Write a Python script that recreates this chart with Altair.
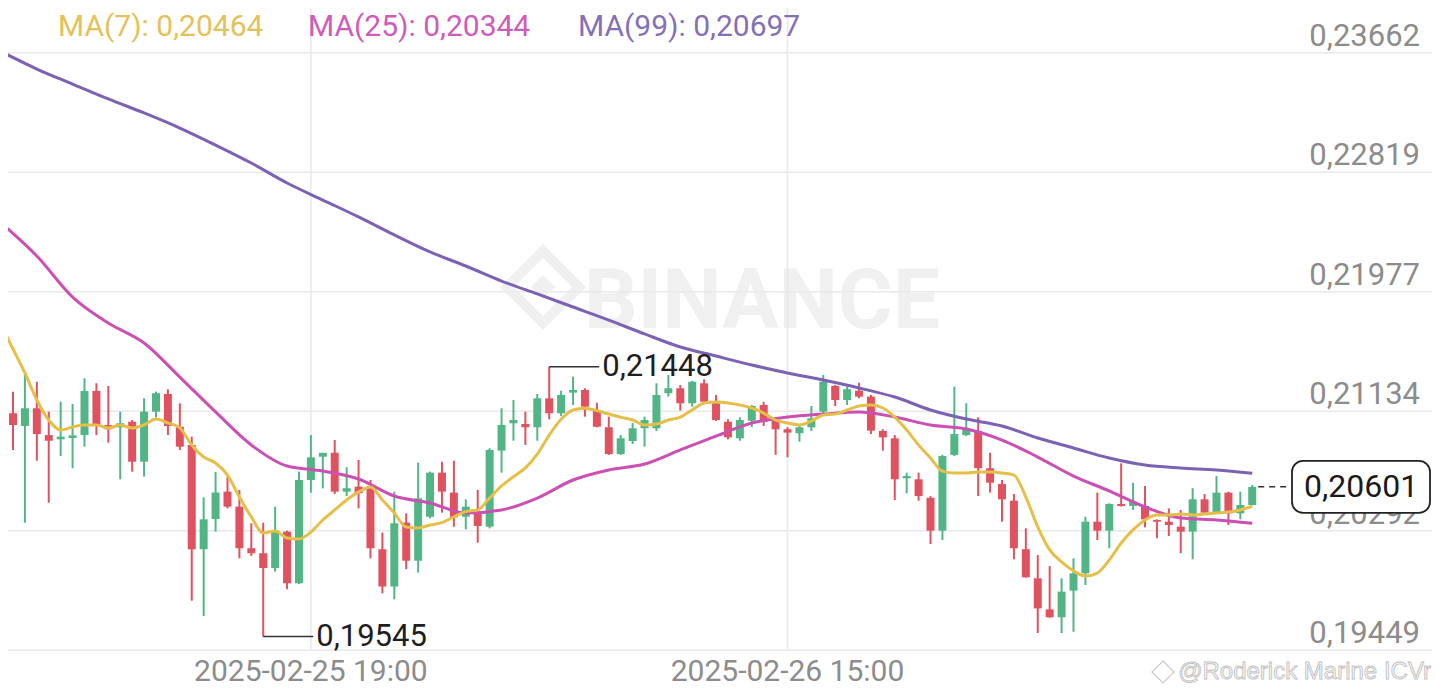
import altair as alt
import pandas as pd

# ---------------- data (30-minute candles, index 26 = 2025-02-25 19:00) ----------------
opens = [0.20882, 0.21120, 0.21030, 0.21155, 0.20966, 0.20936, 0.20945, 0.20966, 0.21277, 0.21037,
         0.21021, 0.21060, 0.20778, 0.21131, 0.21256, 0.21025, 0.20896, 0.20161, 0.20374, 0.20567,
         0.20461, 0.20168, 0.20133, 0.20028, 0.20285, 0.19921, 0.20649, 0.20813, 0.20841, 0.20567,
         0.20602, 0.20602, 0.20161, 0.19898, 0.20348, 0.20080, 0.20390, 0.20701, 0.20560, 0.20390,
         0.20426, 0.20320, 0.20856, 0.21049, 0.21044, 0.21021, 0.21225, 0.21120, 0.21265, 0.21284,
         0.21143, 0.21021, 0.20832, 0.20924, 0.21014, 0.21014, 0.21261, 0.21296, 0.21190, 0.21331,
         0.21190, 0.21060, 0.20943, 0.21067, 0.21178, 0.21072, 0.21007, 0.20979, 0.21021, 0.21131,
         0.21312, 0.21213, 0.21279, 0.21237, 0.20995, 0.20943, 0.20661, 0.20654, 0.20524, 0.20292,
         0.20826, 0.20966, 0.20995, 0.20732, 0.20621, 0.20503, 0.20161, 0.19956, 0.19737, 0.19681,
         0.19869, 0.19991, 0.20355, 0.20292, 0.20480, 0.20466, 0.20466, 0.20367, 0.20355, 0.20320,
         0.20285, 0.20513, 0.20419, 0.20560, 0.20414, 0.20473]
highs = [0.21121, 0.21272, 0.21401, 0.21342, 0.21131, 0.21201, 0.21185, 0.21366, 0.21331, 0.21312,
         0.21131, 0.21072, 0.21225, 0.21272, 0.21289, 0.21190, 0.20955, 0.20527, 0.20706, 0.20673,
         0.20579, 0.20344, 0.20348, 0.20461, 0.20292, 0.20708, 0.20966, 0.20841, 0.20931, 0.20739,
         0.20790, 0.20649, 0.20278, 0.20567, 0.20414, 0.20771, 0.20708, 0.20778, 0.20785, 0.20513,
         0.20579, 0.20873, 0.21155, 0.21213, 0.21131, 0.21256, 0.21448, 0.21279, 0.21378, 0.21296,
         0.21194, 0.21096, 0.20966, 0.21051, 0.21096, 0.21331, 0.21390, 0.21319, 0.21349, 0.21359,
         0.21249, 0.21077, 0.21091, 0.21178, 0.21201, 0.21077, 0.21021, 0.21030, 0.21171, 0.21390,
         0.21319, 0.21307, 0.21335, 0.21249, 0.21007, 0.20966, 0.20701, 0.20701, 0.20536, 0.20826,
         0.21307, 0.21190, 0.21091, 0.20841, 0.20649, 0.20550, 0.20308, 0.20120, 0.20043, 0.19956,
         0.20097, 0.20390, 0.20560, 0.20485, 0.20767, 0.20630, 0.20607, 0.20372, 0.20449, 0.20438,
         0.20591, 0.20550, 0.20677, 0.20567, 0.20567, 0.20614]
lows = [0.20804, 0.20861, 0.20348, 0.20785, 0.20489, 0.20818, 0.20732, 0.20884, 0.20966, 0.20912,
        0.20654, 0.20708, 0.20673, 0.21091, 0.20966, 0.20861, 0.19798, 0.19690, 0.20285, 0.20449,
        0.20097, 0.20114, 0.19545, 0.20003, 0.19879, 0.19915, 0.20560, 0.20590, 0.20550, 0.20536,
        0.20449, 0.20097, 0.19850, 0.19808, 0.20020, 0.19996, 0.20379, 0.20419, 0.20320, 0.20301,
        0.20207, 0.20308, 0.20701, 0.20926, 0.20896, 0.20926, 0.21077, 0.21100, 0.21178, 0.21096,
        0.21021, 0.20826, 0.20826, 0.20903, 0.20884, 0.20995, 0.21237, 0.21138, 0.21166, 0.21195,
        0.21066, 0.20936, 0.20926, 0.21021, 0.21030, 0.20826, 0.20809, 0.20919, 0.20995, 0.21120,
        0.21171, 0.21178, 0.21225, 0.20973, 0.20856, 0.20508, 0.20556, 0.20503, 0.20198, 0.20226,
        0.20818, 0.20959, 0.20536, 0.20560, 0.20355, 0.20090, 0.19960, 0.19570, 0.19678, 0.19570,
        0.19579, 0.19909, 0.20226, 0.20168, 0.20462, 0.20438, 0.20315, 0.20238, 0.20254, 0.20133,
        0.20090, 0.20410, 0.20414, 0.20332, 0.20372, 0.20470]
closes = [0.21093, 0.21037, 0.21155, 0.20973, 0.20926, 0.20955, 0.20964, 0.21277, 0.21037, 0.21007,
          0.21049, 0.20778, 0.21131, 0.21261, 0.21030, 0.20884, 0.20161, 0.20372, 0.20561, 0.20461,
          0.20168, 0.20133, 0.20028, 0.20292, 0.19921, 0.20649, 0.20809, 0.20841, 0.20567, 0.20591,
          0.20556, 0.20168, 0.19898, 0.20344, 0.20080, 0.20520, 0.20701, 0.20567, 0.20386, 0.20461,
          0.20325, 0.20861, 0.21037, 0.21072, 0.21021, 0.21225, 0.21120, 0.21249, 0.21284, 0.21166,
          0.21025, 0.20832, 0.20943, 0.21014, 0.21072, 0.21249, 0.21296, 0.21190, 0.21342, 0.21201,
          0.21072, 0.20950, 0.21072, 0.21171, 0.21060, 0.21007, 0.20983, 0.21021, 0.21084, 0.21342,
          0.21213, 0.21289, 0.21237, 0.20997, 0.20950, 0.20654, 0.20677, 0.20536, 0.20292, 0.20818,
          0.20973, 0.21014, 0.20732, 0.20630, 0.20513, 0.20168, 0.19963, 0.19744, 0.19681, 0.19862,
          0.19991, 0.20355, 0.20292, 0.20480, 0.20466, 0.20496, 0.20372, 0.20355, 0.20332, 0.20285,
          0.20513, 0.20419, 0.20560, 0.20414, 0.20473, 0.20601]

ma7_values = [0.21742, 0.21573, 0.21404, 0.21213, 0.21072, 0.21002, 0.21023, 0.21037, 0.21037, 0.21016,
              0.21037, 0.21016, 0.21037, 0.21079, 0.21051, 0.21016, 0.20896, 0.20811, 0.20769, 0.20684,
              0.20529, 0.20388, 0.20275, 0.20290, 0.20240, 0.20233, 0.20282, 0.20367, 0.20438, 0.20508,
              0.20565, 0.20600, 0.20508, 0.20416, 0.20318, 0.20311, 0.20332, 0.20348, 0.20390, 0.20426,
              0.20438, 0.20522, 0.20607, 0.20672, 0.20734, 0.20832, 0.20966, 0.21077, 0.21143, 0.21155,
              0.21138, 0.21114, 0.21091, 0.21072, 0.21037, 0.21044, 0.21072, 0.21093, 0.21143, 0.21192,
              0.21199, 0.21192, 0.21178, 0.21157, 0.21121, 0.21072, 0.21051, 0.21037, 0.21065, 0.21107,
              0.21114, 0.21143, 0.21171, 0.21178, 0.21157, 0.21093, 0.21002, 0.20896, 0.20804, 0.20712,
              0.20698, 0.20698, 0.20705, 0.20705, 0.20698, 0.20684, 0.20529, 0.20318, 0.20156, 0.20071,
              0.20008, 0.19972, 0.19993, 0.20085, 0.20205, 0.20297, 0.20367, 0.20402, 0.20402, 0.20409,
              0.20402, 0.20409, 0.20416, 0.20423, 0.20438, 0.20464]
ma_sample_idx = [0, 3, 6, 9, 12, 15, 18, 21, 24, 27, 30, 33, 36, 39, 42, 45, 48, 51,
                 54, 57, 60, 63, 66, 69, 72, 75, 78, 81, 84, 87, 90, 93, 96, 99, 102, 105]
ma25_values = [0.22461, 0.22228, 0.21939, 0.21756, 0.21615, 0.21375, 0.21129, 0.20896, 0.20748,
               0.20713, 0.20656, 0.20536, 0.20487, 0.20416, 0.20438, 0.20522, 0.20649, 0.20720,
               0.20762, 0.20861, 0.20959, 0.21051, 0.21093, 0.21114, 0.21129, 0.21093, 0.21037,
               0.21009, 0.20931, 0.20811, 0.20677, 0.20572, 0.20459, 0.20381, 0.20367, 0.20344]
ma99_values = [0.23670, 0.23547, 0.23441, 0.23336, 0.23237, 0.23131, 0.23011, 0.22884, 0.22743,
               0.22623, 0.22504, 0.22377, 0.22257, 0.22158, 0.22052, 0.21961, 0.21869, 0.21777,
               0.21679, 0.21587, 0.21523, 0.21460, 0.21404, 0.21354, 0.21298, 0.21234, 0.21143,
               0.21079, 0.21030, 0.20945, 0.20875, 0.20804, 0.20755, 0.20734, 0.20720, 0.20697]

y_ticks = [0.23662, 0.22819, 0.21977, 0.21134, 0.20292, 0.19449]
x_tick_idx = [26, 66]
x_tick_labels = ["2025-02-25 19:00", "2025-02-26 15:00"]
legend_names = ["MA(7)", "MA(25)", "MA(99)"]
legend_values = [0.20464, 0.20344, 0.20697]
high_idx, high_val = 46, 0.21448
low_idx, low_val = 22, 0.19545
last_price = 0.20601

# ---------------- styling ----------------
W, H = 1424, 680
Y_MIN, Y_MAX = 0.191825, 0.239772
GREEN, RED = "#52b586", "#e0525f"
MA_COLORS = ["#e6bf48", "#cc4fb3", "#7c62b4"]
LEG_COLORS = ["#e3c25a", "#cf5cb8", "#8470b8"]
GRAY = "#8c8c8c"
GRID = "#e9e9e9"
WM = "#f0f0f0"
FONT = "Roboto"

xs = alt.Scale(domain=[1, 1 + W / 12], nice=False, zero=False)
ys = alt.Scale(domain=[Y_MIN, Y_MAX], nice=False, zero=False)


def X(f):
    return alt.X(f, type="quantitative", scale=xs, axis=None)


def Y(f):
    return alt.Y(f, type="quantitative", scale=ys, axis=None)


candles = pd.DataFrame({"idx": list(range(len(opens))), "open": opens, "high": highs,
                        "low": lows, "close": closes})
updown = alt.condition("datum.close >= datum.open", alt.value(GREEN), alt.value(RED))

grid_h = alt.Chart(pd.DataFrame({"v": y_ticks})).mark_rule(color=GRID, strokeWidth=1.5).encode(
    y=Y("v"), x=alt.value(0), x2=alt.value(W))
grid_v = alt.Chart(pd.DataFrame({"idx": x_tick_idx, "top": [Y_MAX] * 2, "bottom": [y_ticks[-1]] * 2})
                   ).mark_rule(color=GRID, strokeWidth=1.5).encode(x=X("idx"), y=Y("top"), y2="bottom")

# watermark
wm_text = alt.Chart(pd.DataFrame({"t": ["BINANCE"]})).mark_text(
    font=FONT, fontSize=84, fontWeight="bold", color=WM, align="center",
    baseline="alphabetic").encode(x=alt.value(754), y=alt.value(320), text="t")
DIAMOND = "M0,-1 L1,0 L0,1 L-1,0 Z"
wm_logo_outer = alt.Chart(pd.DataFrame({"a": [0]})).mark_point(
    shape=DIAMOND, size=72 * 72, filled=False, stroke=WM, strokeWidth=10, opacity=1).encode(
    x=alt.value(535), y=alt.value(279))
wm_logo_inner = alt.Chart(pd.DataFrame({"a": [0]})).mark_point(
    shape=DIAMOND, size=24 * 24, filled=True, fill=WM, opacity=1).encode(
    x=alt.value(535), y=alt.value(279))

wicks = alt.Chart(candles).mark_rule(strokeWidth=2, clip=True).encode(
    x=X("idx"), y=Y("low"), y2="high", color=updown)
bodies = alt.Chart(candles).mark_bar(width=8, clip=True).encode(
    x=X("idx"), y=Y("open"), y2="close", color=updown)

ma7 = alt.Chart(pd.DataFrame({"idx": list(range(len(ma7_values))), "v": ma7_values})).mark_line(
    color=MA_COLORS[0], strokeWidth=3, interpolate="monotone", clip=True).encode(x=X("idx"), y=Y("v"))
ma25 = alt.Chart(pd.DataFrame({"idx": ma_sample_idx, "v": ma25_values})).mark_line(
    color=MA_COLORS[1], strokeWidth=3, interpolate="monotone", clip=True).encode(x=X("idx"), y=Y("v"))
ma99 = alt.Chart(pd.DataFrame({"idx": ma_sample_idx, "v": ma99_values})).mark_line(
    color=MA_COLORS[2], strokeWidth=3, interpolate="monotone", clip=True).encode(x=X("idx"), y=Y("v"))

# right price labels
ylab = alt.Chart(pd.DataFrame({"v": y_ticks, "label": [f"{v:.5f}".replace(".", ",") for v in y_ticks]})
                 ).mark_text(font=FONT, fontSize=31, color=GRAY, align="right", baseline="alphabetic",
                             dy=-7).encode(y=Y("v"), x=alt.value(1412), text="label")
# time labels
xlab = alt.Chart(pd.DataFrame({"idx": x_tick_idx, "label": x_tick_labels})).mark_text(
    font=FONT, fontSize=30, color=GRAY, align="center", baseline="middle").encode(
    x=X("idx"), y=alt.value(664), text="label")

# legend
legend_x = [50, 300, 570]
legend_layers = []
for name, val, col, lx in zip(legend_names, legend_values, LEG_COLORS, legend_x):
    legend_layers.append(
        alt.Chart(pd.DataFrame({"t": [f"{name}: {val:.5f}".replace(".", ",")]})).mark_text(
            font=FONT, fontSize=30, color=col, align="left", baseline="middle").encode(
            x=alt.value(lx), y=alt.value(19), text="t"))

# high / low annotations
ann = pd.DataFrame({"idx": [high_idx, low_idx], "v": [high_val, low_val]})
ann["idx2"] = ann["idx"] + 4.2
ann["label"] = [f"{v:.5f}".replace(".", ",") for v in ann["v"]]
ann_line = alt.Chart(ann).mark_rule(color="#333333", strokeWidth=1.5).encode(
    x=X("idx"), x2="idx2", y=Y("v"))
ann_text = alt.Chart(ann).mark_text(font=FONT, fontSize=31, color="#1e1e1e", align="left",
                                    baseline="middle", dx=53).encode(x=X("idx"), y=Y("v"), text="label")

# current price
cur = pd.DataFrame({"idx": [len(opens) - 0.5], "idx2": [len(opens) + 2.0], "v": [last_price],
                    "label": [f"{last_price:.5f}".replace(".", ",")]})
cur_line = alt.Chart(cur).mark_rule(color="#333333", strokeWidth=1.5, strokeDash=[6, 5]).encode(
    x=X("idx"), x2="idx2", y=Y("v"))
BOX = ("M -0.84,-0.377 L 0.84,-0.377 A 0.16,0.16 0 0 1 1,-0.217 L 1,0.217 "
       "A 0.16,0.16 0 0 1 0.84,0.377 L -0.84,0.377 A 0.16,0.16 0 0 1 -1,0.217 "
       "L -1,-0.217 A 0.16,0.16 0 0 1 -0.84,-0.377 Z")
cur_box = alt.Chart(cur).mark_point(shape=BOX, size=138 * 138, filled=True, fill="white",
                                    stroke="#222222", strokeWidth=1.8, opacity=1).encode(
    x=alt.value(1353), y=Y("v"))
cur_text = alt.Chart(cur).mark_text(font=FONT, fontSize=32, color="#1a1a1a", align="center",
                                    baseline="middle").encode(x=alt.value(1353), y=Y("v"), text="label")

# author watermark
auth_text = alt.Chart(pd.DataFrame({"t": ["@Roderick Marine ICVr"]})).mark_text(
    font="Liberation Sans", fontSize=24, fill="#fbfbfb", stroke="#c2c2c2", strokeWidth=0.9,
    align="right", baseline="middle").encode(x=alt.value(1423), y=alt.value(664), text="t")
auth_logo = alt.Chart(pd.DataFrame({"a": [0]})).mark_point(
    shape=DIAMOND, size=22 * 22, filled=False, stroke="#c8c8c8", strokeWidth=1.2, opacity=1).encode(
    x=alt.value(1155), y=alt.value(664))

chart = alt.layer(
    wm_text, wm_logo_outer, wm_logo_inner, grid_h, grid_v,
    wicks, bodies, ma99, ma25, ma7,
    ylab, xlab, *legend_layers, ann_line, ann_text,
    cur_line, cur_box, cur_text, auth_text, auth_logo,
).properties(
    width=W, height=H, padding=0, background="white",
    autosize=alt.AutoSizeParams(type="none"),
).configure_view(stroke=None)

chart.save("out.html", embed_options={"renderer": "svg", "actions": False})
